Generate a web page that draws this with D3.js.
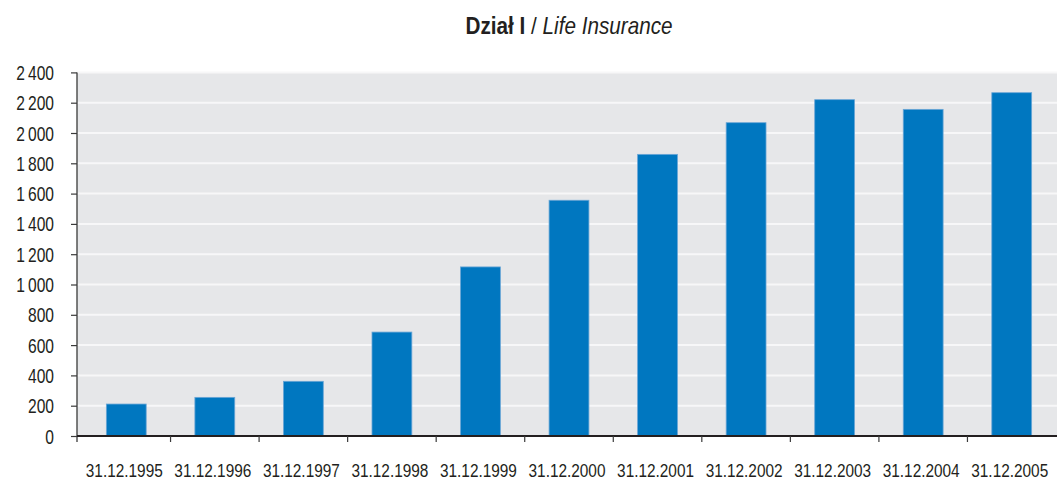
<!DOCTYPE html>
<html><head><meta charset="utf-8">
<script src="https://cdn.jsdelivr.net/npm/d3@7"></script>
<style>
body{margin:0;background:#fff;}
svg{display:block;}
text{font-family:"Liberation Sans",Arial,sans-serif;fill:#231f20;}
</style></head>
<body>
<svg id="chart" width="1057" height="481"></svg>
<script>
const categories = ["31.12.1995","31.12.1996","31.12.1997","31.12.1998","31.12.1999","31.12.2000","31.12.2001","31.12.2002","31.12.2003","31.12.2004","31.12.2005"];
const values = [211, 255, 361, 686, 1116, 1556, 1859, 2068, 2220, 2156, 2266];
const yTicks = [0,200,400,600,800,1000,1200,1400,1600,1800,2000,2200,2400];
const titleBold = "Dział I";
const titleItalic = "Life Insurance";

(function () {
const svg = d3.select("#chart");
const pLeft = 77, pRight = 1057, pTop = 72.4, pBottom = 436;

const x = d3.scaleBand().domain(categories).range([82, 1056]).paddingInner(0.55).paddingOuter(0.275);
const y = d3.scaleLinear().domain([0, 2400]).range([pBottom, pTop]);

// background
svg.append("rect").attr("x", pLeft).attr("y", y(2400)).attr("width", pRight - pLeft).attr("height", pBottom - y(2400)).attr("fill", "#e6e7e9");

// gridlines
svg.append("g").selectAll("line").data(yTicks.filter(d => d > 0)).join("line")
  .attr("x1", pLeft).attr("x2", pRight).attr("y1", d => y(d)).attr("y2", d => y(d))
  .attr("stroke", "#f7f7f8").attr("stroke-width", 2);

// bars
svg.append("g").selectAll("rect").data(values).join("rect")
  .attr("x", (d, i) => x(categories[i])).attr("width", x.bandwidth())
  .attr("y", d => y(d)).attr("height", d => y(0) - y(d))
  .attr("fill", "#0077c0").attr("stroke", "#6aa6d6").attr("stroke-width", 0.8);

// y axis (ticks via d3 axis, labels drawn condensed)
const yAxis = d3.axisLeft(y).tickValues(yTicks).tickSize(6).tickFormat("");
const gy = svg.append("g").attr("transform", `translate(${pLeft},0)`).call(yAxis);
gy.select(".domain").remove();
gy.append("line").attr("x1", 0).attr("x2", 0).attr("y1", y(2400)).attr("y2", pBottom + 6).attr("stroke", "#3a3a3a").attr("stroke-width", 1.3);
gy.selectAll(".tick line").attr("stroke", "#3a3a3a").attr("stroke-width", 1.2);
const fmt = d => d3.format(",")(d).replace(/,/g, "\u2009");
svg.append("g").selectAll("text").data(yTicks).join("text")
  .attr("transform", d => `translate(54,${y(d) + 7.5}) scale(0.8,1)`)
  .attr("text-anchor", "end").attr("font-size", "19.5px").text(fmt);

// x axis
const gx = svg.append("g").attr("transform", `translate(0,${pBottom})`);
gx.append("line").attr("x1", pLeft).attr("x2", pRight).attr("y1", 0).attr("y2", 0).attr("stroke", "#231f20").attr("stroke-width", 2.2);
const boundaries = categories.slice(1).map(c => x(c) - x.step() * x.paddingInner() / 2);
gx.selectAll(".xt").data(boundaries).join("line").attr("class", "xt")
  .attr("x1", d => d).attr("x2", d => d).attr("y1", 0).attr("y2", 6)
  .attr("stroke", "#3a3a3a").attr("stroke-width", 1.2);
gx.selectAll(".xl").data(categories).join("text").attr("class", "xl")
  .attr("transform", d => `translate(${x(d) + x.bandwidth() / 2 - 2},41) scale(0.81,1)`)
  .attr("text-anchor", "middle").attr("font-size", "19px").text(d => d);

// title
const t = svg.append("text").attr("transform", "translate(569,34) scale(0.9,1)").attr("text-anchor", "middle").attr("font-size", "23px");
t.append("tspan").attr("font-weight", "bold").text(titleBold);
t.append("tspan").text(" / ");
t.append("tspan").attr("font-style", "italic").text(titleItalic);
})();
</script>
</body></html>
